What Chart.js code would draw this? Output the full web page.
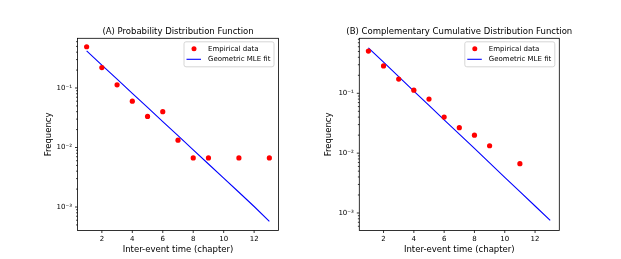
<!DOCTYPE html>
<html>
<head>
<meta charset="utf-8">
<script src="https://cdn.jsdelivr.net/npm/chart.js@4.4.0/dist/chart.umd.min.js"></script>
<style>
  html, body { margin: 0; padding: 0; background: #fff; }
  #wrap { position: relative; width: 621px; height: 259px; }
  canvas { position: absolute; top: 0; }
</style>
</head>
<body>
<div id="wrap">
  <canvas id="chart-pdf" width="310" height="259" style="left:0"></canvas>
  <canvas id="chart-ccdf" width="311" height="259" style="left:310px"></canvas>
</div>
<script>
// data (150 events)
const pdfX = [1, 2, 3, 4, 5, 6, 7, 8, 9, 11, 13];
const pdfValues = [0.493, 0.22, 0.113, 0.06, 0.0333, 0.04, 0.0133, 0.00667, 0.00667, 0.00667, 0.00667];
const ccdfX = [1, 2, 3, 4, 5, 6, 7, 8, 9, 11];
const ccdfValues = [0.507, 0.287, 0.173, 0.113, 0.08, 0.04, 0.0267, 0.02, 0.0133, 0.00667];

// geometric MLE fit lines
const fitX = [1, 2, 3, 4, 5, 6, 7, 8, 9, 10, 11, 12, 13];
const pdfFit = [0.42, 0.243, 0.141, 0.0815, 0.0471, 0.0273, 0.0158, 0.00912, 0.00528, 0.00305, 0.00177, 0.00102, 0.000575];
const ccdfFit = [0.575, 0.331, 0.19, 0.109, 0.0629, 0.0361, 0.0208, 0.012, 0.00687, 0.00395, 0.00227, 0.00131, 0.000751];

// tick labels
const xTickValues = [2, 4, 6, 8, 10, 12];
const yMajorTicks = [0.001, 0.01, 0.1];
const yMajorLabels = ["10\u207B\u00B3", "10\u207B\u00B2", "10\u207B\u00B9"];

const legendLabels = ["Empirical data", "Geometric MLE fit"];
const FONT = '"DejaVu Sans", sans-serif';

function toPoints(xs, ys) {
  return xs.map((x, i) => ({ x: x, y: ys[i] }));
}

// minor + major ticks for a log axis between lo and hi
function logTicks(lo, hi) {
  const out = [];
  for (let e = -5; e <= 1; e++) {
    for (let m = 1; m <= 9; m++) {
      const v = m * Math.pow(10, e);
      if (v >= lo && v <= hi) out.push({ value: v, major: m === 1 });
    }
  }
  return out;
}

const axesFrame = {
  id: "axesFrame",
  afterDraw(chart, args, opts) {
    const { ctx, chartArea: { left, top, right, bottom }, scales: { x, y } } = chart;
    ctx.save();
    ctx.strokeStyle = "#000";
    ctx.lineWidth = 0.8;
    ctx.strokeRect(left, top, right - left, bottom - top);

    // tick marks, outward
    ctx.beginPath();
    x.ticks.forEach((t) => {
      const px = x.getPixelForValue(t.value);
      ctx.moveTo(px, bottom);
      ctx.lineTo(px, bottom + 2.5);
    });
    y.ticks.forEach((t) => {
      const py = y.getPixelForValue(t.value);
      ctx.moveTo(left, py);
      ctx.lineTo(left - (t.major ? 2.5 : 1.4), py);
    });
    ctx.stroke();

    // title
    ctx.fillStyle = "#000";
    ctx.font = "8.5px " + FONT;
    ctx.textAlign = "center";
    ctx.textBaseline = "middle";
    ctx.fillText(opts.title, (left + right) / 2, top - 6.5);

    // legend box, upper right
    const w = 90, h = 25;
    const bx = right - 4.5 - w, by = top + 3.5;
    ctx.beginPath();
    ctx.roundRect(bx, by, w, h, 2);
    ctx.fillStyle = "rgba(255,255,255,0.8)";
    ctx.fill();
    ctx.strokeStyle = "#cccccc";
    ctx.lineWidth = 0.8;
    ctx.stroke();

    ctx.fillStyle = "#ff0000";
    ctx.beginPath();
    ctx.arc(bx + 10, by + 7, 2.5, 0, Math.PI * 2);
    ctx.fill();
    ctx.strokeStyle = "#0000ff";
    ctx.lineWidth = 1.1;
    ctx.beginPath();
    ctx.moveTo(bx + 2.5, by + 17.5);
    ctx.lineTo(bx + 17, by + 17.5);
    ctx.stroke();

    ctx.fillStyle = "#000";
    ctx.font = "7px " + FONT;
    ctx.textAlign = "left";
    ctx.fillText(legendLabels[0], bx + 24, by + 7);
    ctx.fillText(legendLabels[1], bx + 24, by + 17.5);
    ctx.restore();
  },
};

function makeChart(id, cfg) {
  const ctx = document.querySelector("#" + id).getContext("2d");
  return new Chart(ctx, {
    type: "scatter",
    data: {
      datasets: [
        {
          label: legendLabels[0],
          data: toPoints(cfg.xs, cfg.ys),
          pointRadius: 2.6,
          pointBackgroundColor: "#ff0000",
          pointBorderWidth: 0,
          showLine: false,
        },
        {
          label: legendLabels[1],
          data: toPoints(fitX, cfg.fit),
          showLine: true,
          borderColor: "#0000ff",
          borderWidth: 1.1,
          pointRadius: 0,
          fill: false,
        },
      ],
    },
    options: {
      responsive: false,
      devicePixelRatio: 1,
      animation: false,
      layout: { padding: { left: 0, right: cfg.padRight, top: 38.3, bottom: 0 } },
      plugins: {
        legend: { display: false },
        tooltip: { enabled: false },
        axesFrame: { title: cfg.title },
      },
      scales: {
        x: {
          type: "linear",
          min: 0.4,
          max: 13.6,
          afterBuildTicks: (scale) => {
            scale.ticks = xTickValues.map((v) => ({ value: v }));
          },
          afterFit: (scale) => {
            scale.height = 28.5;
          },
          grid: { display: true, drawOnChartArea: false, drawTicks: true, tickLength: 2.5, color: "rgba(0,0,0,0)" },
          border: { display: false },
          ticks: {
            autoSkip: false,
            maxRotation: 0,
            padding: 1.5,
            color: "#000",
            font: { family: FONT, size: 7 },
          },
          title: {
            display: true,
            text: "Inter-event time (chapter)",
            color: "#000",
            font: { family: FONT, size: 8.5 },
            padding: { top: 0, bottom: 4.4 },
          },
        },
        y: {
          type: "logarithmic",
          min: cfg.yMin,
          max: cfg.yMax,
          afterBuildTicks: (scale) => {
            scale.ticks = logTicks(cfg.yMin, cfg.yMax);
          },
          afterFit: (scale) => {
            scale.width = cfg.axisWidth;
          },
          grid: { display: true, drawOnChartArea: false, drawTicks: true, tickLength: 2.5, color: "rgba(0,0,0,0)" },
          border: { display: false },
          ticks: {
            autoSkip: false,
            padding: 3,
            color: "#000",
            font: { family: FONT, size: 7 },
            callback: (value) => {
              const i = yMajorTicks.findIndex((m) => Math.abs(m - value) / m < 1e-6);
              return i >= 0 ? yMajorLabels[i] : "";
            },
          },
          title: {
            display: true,
            text: "Frequency",
            color: "#000",
            font: { family: FONT, size: 8.5 },
            padding: { top: cfg.yTitlePad, bottom: 0 },
          },
        },
      },
    },
    plugins: [axesFrame],
  });
}

makeChart("chart-pdf", {
  xs: pdfX,
  ys: pdfValues,
  fit: pdfFit,
  title: "(A) Probability Distribution Function",
  yMin: 0.000403,
  yMax: 0.684,
  axisWidth: 77.5,
  padRight: 31.5,
  yTitlePad: 43.2,
});

makeChart("chart-ccdf", {
  xs: ccdfX,
  ys: ccdfValues,
  fit: ccdfFit,
  title: "(B) Complementary Cumulative Distribution Function",
  yMin: 0.00051,
  yMax: 0.83,
  axisWidth: 49.3,
  padRight: 61.7,
  yTitlePad: 13.2,
});
</script>
</body>
</html>
